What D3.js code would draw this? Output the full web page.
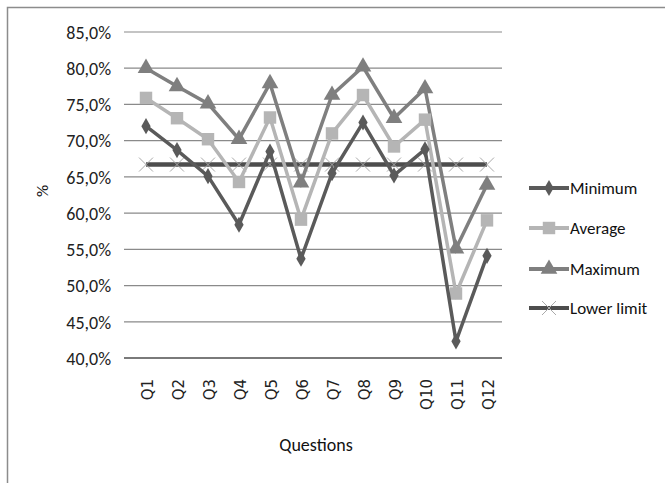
<!DOCTYPE html>
<html><head><meta charset="utf-8">
<script src="https://cdn.jsdelivr.net/npm/d3@7"></script>
<style>body{margin:0;background:#fff}svg{display:block}text{font-family:Carlito,"Liberation Sans Narrow","Open Sans",sans-serif}</style>
</head><body>
<svg id="c" width="665" height="483"></svg>
<script>
const categories = ["Q1","Q2","Q3","Q4","Q5","Q6","Q7","Q8","Q9","Q10","Q11","Q12"];
const minimum = [72.0,68.7,65.1,58.4,68.5,53.7,65.5,72.5,65.2,68.8,42.3,54.1];
const average = [75.9,73.1,70.2,64.3,73.2,59.1,71.0,76.3,69.2,72.9,48.9,59.0];
const maximum = [80.0,77.5,75.1,70.2,77.9,64.2,76.3,80.2,73.1,77.2,55.1,63.9];
const lowerLimit = [66.7,66.7,66.7,66.7,66.7,66.7,66.7,66.7,66.7,66.7,66.7,66.7];
const yTicks = [40,45,50,55,60,65,70,75,80,85];
const seriesNames = ["Minimum","Average","Maximum","Lower limit"];

const svg = d3.select("#c");
svg.append("rect").attr("x",7.5).attr("y",7.5).attr("width",700).attr("height",500)
  .attr("fill","none").attr("stroke","#8c8c8c").attr("stroke-width",1.5);

const x = d3.scalePoint().domain(categories).range([146,487]);
const y = d3.scaleLinear().domain([40,85]).range([358,32]);
const fmt = v => d3.format(".1f")(v).replace(".",",")+"%";

// gridlines
svg.append("g").selectAll("line").data(yTicks).join("line")
  .attr("x1",124).attr("x2",502).attr("y1",d=>y(d)).attr("y2",d=>y(d))
  .attr("stroke",d=>d===40?"#7a7a7a":"#8a8a8a").attr("stroke-width",d=>d===40?2:1.2);

// y axis
const ya = svg.append("g").attr("transform","translate(118,0)")
  .call(d3.axisLeft(y).tickValues(yTicks).tickFormat(fmt).tickSize(0));
ya.select(".domain").remove();
ya.selectAll("text").attr("font-size",18).attr("fill","#222").attr("dx",-4).attr("dy","0.35em");

// x axis
const xa = svg.append("g").attr("transform","translate(0,358)")
  .call(d3.axisBottom(x).tickSize(0));
xa.select(".domain").remove();
xa.selectAll("text").attr("font-size",15).attr("fill","#222")
  .style("font-family","'DejaVu Sans',sans-serif")
  .attr("transform","rotate(-90)").attr("text-anchor","end")
  .attr("x",-21).attr("y",1).attr("dy","0.35em");

// axis titles
svg.append("text").attr("x",316).attr("y",451).attr("text-anchor","middle")
  .attr("font-size",18).attr("fill","#111").text("Questions");
svg.append("text").attr("transform","translate(48,191) rotate(-90)").attr("text-anchor","middle")
  .attr("font-size",17).attr("fill","#111").text("%");

const line = d3.line().x((d,i)=>x(categories[i])).y(d=>y(d));

const diamond = d3.symbol().type(d3.symbolDiamond).size(75);
const square = d3.symbol().type(d3.symbolSquare).size(155);
const tri = d3.symbol().type(d3.symbolTriangle).size(120);

// Lower limit
svg.append("path").datum(lowerLimit).attr("d",line).attr("fill","none")
  .attr("stroke","#4d4d4d").attr("stroke-width",4.5);
function xMark(g, cx, cy){
  g.append("path").attr("d",`M${cx-7},${cy-7}L${cx+7},${cy+7}M${cx-7},${cy+7}L${cx+7},${cy-7}`)
    .attr("stroke","#aaa").attr("stroke-width",1);
}
const llg = svg.append("g");
lowerLimit.forEach((v,i)=>xMark(llg, x(categories[i]), y(v)));

const series = [
  {data:minimum, color:"#5a5a5a", sym:diamond},
  {data:average, color:"#b5b5b5", sym:square},
  {data:maximum, color:"#7f7f7f", sym:tri}
];
[series[2],series[1],series[0]].forEach(s=>{
  svg.append("path").datum(s.data).attr("d",line).attr("fill","none")
    .attr("stroke",s.color).attr("stroke-width",3.5);
  svg.append("g").selectAll("path").data(s.data).join("path")
    .attr("d",s.sym).attr("fill",s.color)
    .attr("transform",(d,i)=>`translate(${x(categories[i])},${y(d)})`);
});

// legend
const legY = [188,228,269,308];
const leg = svg.append("g");
const legStyles = [
  {color:"#5a5a5a", sym:diamond},
  {color:"#b5b5b5", sym:square},
  {color:"#7f7f7f", sym:tri},
  {color:"#4d4d4d", sym:null}
];
seriesNames.forEach((n,i)=>{
  const s = legStyles[i], yy = legY[i];
  leg.append("line").attr("x1",529).attr("x2",569).attr("y1",yy).attr("y2",yy)
    .attr("stroke",s.color).attr("stroke-width",4);
  if(s.sym) leg.append("path").attr("d",s.sym).attr("fill",s.color).attr("transform",`translate(549,${yy})`);
  else xMark(leg,549,yy);
  leg.append("text").attr("x",570).attr("y",yy).attr("dy","0.35em").attr("font-size",17)
    .attr("fill","#111").text(n);
});
</script>
</body></html>
